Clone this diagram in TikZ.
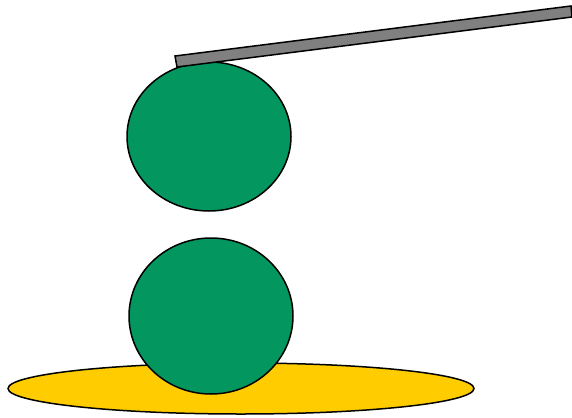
\documentclass[tikz,border=0pt]{standalone}
\definecolor{ballgreen}{HTML}{03965F}
\definecolor{baseyellow}{HTML}{FFCC00}
\definecolor{bargray}{HTML}{808080}
\begin{document}
\begin{tikzpicture}[x=1pt,y=-1pt,line width=1.5pt,
  shapeline/.style={draw=black,line join=miter}]
\useasboundingbox (0,0) rectangle (572,417);
\fill[white] (0,0) rectangle (572,417);
% base plate
\filldraw[shapeline,fill=baseyellow] (241,388.5) ellipse [x radius=233, y radius=25.5];
% lower ball
\filldraw[shapeline,fill=ballgreen] (211,316) ellipse [x radius=82, y radius=78];
% upper ball
\filldraw[shapeline,fill=ballgreen] (209,136.5) ellipse [x radius=82, y radius=74.5];
% bar
\filldraw[shapeline,fill=bargray] (175,56) -- (571,6) -- (572,17) -- (177,67) -- cycle;
\end{tikzpicture}
\end{document}
